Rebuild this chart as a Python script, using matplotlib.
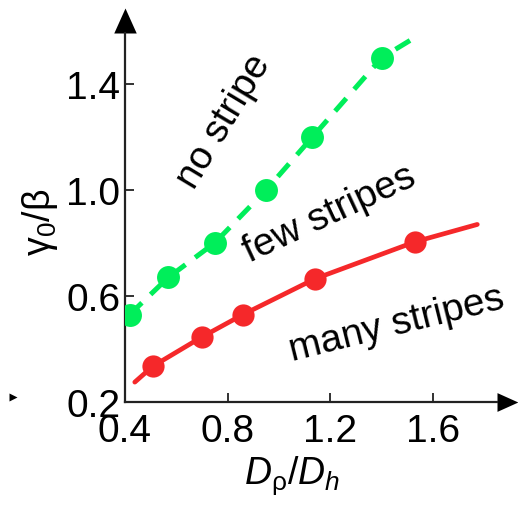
import matplotlib
matplotlib.use("Agg")
import matplotlib.pyplot as plt
from matplotlib.path import Path
from matplotlib.lines import Line2D

plt.rcParams['font.family'] = ['Liberation Sans', 'DejaVu Sans']
plt.rcParams['mathtext.fontset'] = 'custom'
plt.rcParams['mathtext.rm'] = 'Liberation Sans'
plt.rcParams['mathtext.it'] = 'Liberation Sans:italic'
plt.rcParams['mathtext.sf'] = 'Liberation Sans'

# ---- data ----
green_x = [0.42, 0.57, 0.75, 0.95, 1.13, 1.40]
green_y = [0.53, 0.67, 0.80, 1.00, 1.20, 1.50]
green_line_x = [0.42, 0.57, 0.75, 0.95, 1.13, 1.40, 1.51]
green_line_y = [0.53, 0.67, 0.80, 1.00, 1.20, 1.50, 1.565]

red_x = [0.51, 0.70, 0.86, 1.14, 1.53]
red_y = [0.335, 0.445, 0.53, 0.665, 0.805]
red_line_x = [0.44, 0.51, 0.70, 0.86, 1.14, 1.53, 1.77]
red_line_y = [0.275, 0.335, 0.445, 0.53, 0.665, 0.805, 0.87]

xticks = [0.4, 0.8, 1.2, 1.6]
yticks = [0.2, 0.6, 1.0, 1.4]
xticklabels = ['0.4', '0.8', '1.2', '1.6']
yticklabels = ['0.2', '0.6', '1.0', '1.4']

region_labels = ['no stripe', 'few stripes', 'many stripes']
region_x = [0.785, 1.198, 1.458]
region_y = [1.262, 0.912, 0.494]
region_rot = [59, 25, 14]

GREEN = '#00EE5A'
RED = '#F5282A'
AX = '#222222'

W, H = 518, 506
fig = plt.figure(figsize=(W / 100, H / 100), dpi=100)

# axes geometry (pixels)
x0_px, y0_px = 124.5, 403.0
right_px, top_px = 497.0, 34.0
ax = fig.add_axes([x0_px / W, (H - y0_px) / H, (right_px - x0_px) / W, (y0_px - top_px) / H])
sx = 257.5  # px per x unit
sy = 265.0  # px per y unit
ax.set_xlim(0.4, 0.4 + (right_px - x0_px) / sx)
ax.set_ylim(0.2, 0.2 + (y0_px - top_px) / sy)

for s in ['top', 'right']:
    ax.spines[s].set_visible(False)
for s in ['left', 'bottom']:
    ax.spines[s].set_color(AX)
    ax.spines[s].set_linewidth(1.6)

ax.plot(green_line_x, green_line_y, color=GREEN, lw=3.6, dashes=(3.4, 2.4),
        solid_capstyle='round', dash_capstyle='butt', zorder=2)
ax.plot(green_x, green_y, 'o', color=GREEN, ms=16.5, mec='none', zorder=3)
ax.plot(red_line_x, red_line_y, color=RED, lw=3.4, solid_capstyle='round', zorder=2)
ax.plot(red_x, red_y, 'o', color=RED, ms=16, mec='none', zorder=3)

ax.set_xticks(xticks)
ax.set_xticklabels(xticklabels)
ax.set_yticks(yticks)
ax.set_yticklabels(yticklabels)
ax.tick_params(axis='both', direction='in', length=6.5, width=1.3, color=AX,
               labelsize=28)
ax.tick_params(axis='x', pad=8)
ax.tick_params(axis='y', pad=3)

for t, x, y, r in zip(region_labels, region_x, region_y, region_rot):
    ax.text(x, y, t, rotation=r, rotation_mode='anchor', ha='center', va='center',
            fontsize=28, color='black')

# arrowheads
up_tri = Path([(-0.45, 0), (0.45, 0), (0, 1), (-0.45, 0)],
              [Path.MOVETO, Path.LINETO, Path.LINETO, Path.CLOSEPOLY])
right_tri = Path([(0, -0.45), (0, 0.45), (1, 0), (0, -0.45)],
                 [Path.MOVETO, Path.LINETO, Path.LINETO, Path.CLOSEPOLY])
ax.plot([0], [1], marker=up_tri, ms=36, color='black', mec='none',
        transform=ax.transAxes, clip_on=False)
ax.plot([1], [0], marker=right_tri, ms=30, color='black', mec='none',
        transform=ax.transAxes, clip_on=False)

# axis labels
fig.text(40 / W, 1 - 222 / H, r'γ$_{\mathit{0}}$/β', rotation=90,
         ha='center', va='center', fontsize=27)
fig.text(292 / W, 1 - 476 / H, r'$D_{\mathrm{ρ}}/D_{h}$', ha='center', va='center',
         fontsize=27)

# small stray marker at left
fig.add_artist(Line2D([13 / W], [1 - 398 / H], marker='>', ms=6, color='black',
                      mec='none', transform=fig.transFigure))

fig.savefig('out.png', dpi=100)
